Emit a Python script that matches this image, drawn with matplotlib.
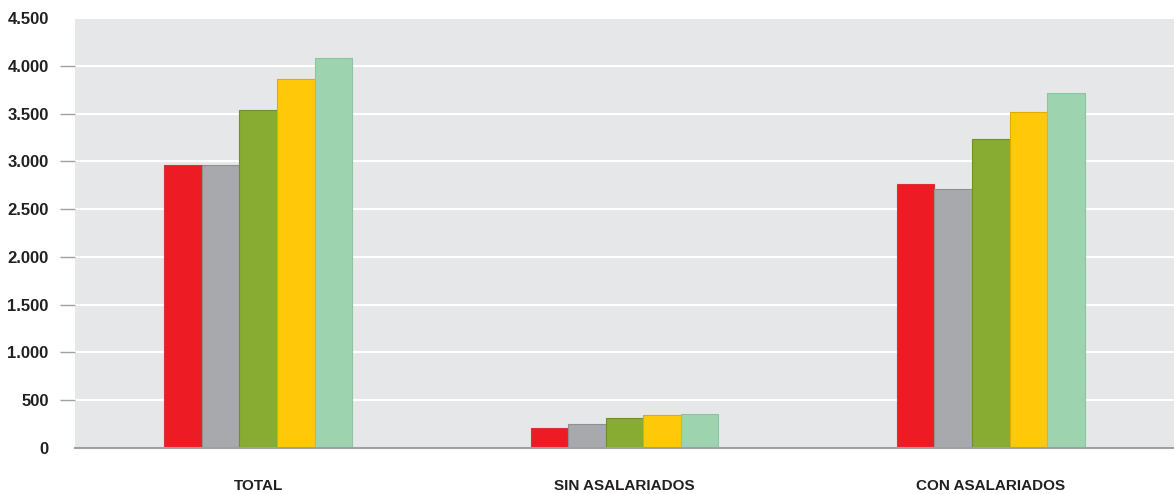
import matplotlib.pyplot as plt
import numpy as np

plt.rcParams['font.family'] = ['Liberation Sans Narrow', 'Liberation Sans', 'DejaVu Sans']

categorias = ["TOTAL", "SIN ASALARIADOS", "CON ASALARIADOS"]
series = ["Serie 1", "Serie 2", "Serie 3", "Serie 4", "Serie 5"]
valores = [
    [2961, 206, 2759],
    [2961, 254, 2707],
    [3541, 311, 3230],
    [3858, 345, 3513],
    [4077, 359, 3718],
]
colores = ['#ed1c24', '#a7a9ac', '#87ac31', '#ffc90a', '#9dd3ae']
bordes = ['#d2343a', '#8e9093', '#6f8f29', '#e0ac00', '#8cc49f']
yticks = [0, 500, 1000, 1500, 2000, 2500, 3000, 3500, 4000, 4500]
ytick_labels = ["0", "500", "1.000", "1.500", "2.000", "2.500", "3.000", "3.500", "4.000", "4.500"]

fig = plt.figure(figsize=(11.74, 4.94), dpi=100)
ax = fig.add_axes([0.0639, 0.0931, 0.9361, 0.8705])
ax.set_facecolor('#e6e7e8')

x = np.arange(len(categorias))
ancho = 0.1026
for i in range(len(series)):
    ax.bar(x + (i - 2) * ancho, valores[i], ancho, color=colores[i],
           edgecolor=bordes[i], linewidth=0.8, label=series[i], zorder=3)

ax.set_xlim(-0.5, 2.5)
ax.set_ylim(0, 4500)
ax.set_yticks(yticks)
ax.set_yticklabels(ytick_labels, fontsize=12, fontweight='bold', color='#231f20')
ax.set_xticks(x)
ax.set_xticklabels(categorias, fontsize=11, fontweight='bold', color='#231f20')
ax.grid(axis='y', color='white', linewidth=1.5, zorder=0)
ax.set_axisbelow(True)

for s in ['top', 'right', 'left']:
    ax.spines[s].set_visible(False)
ax.spines['bottom'].set_color('#a0a0a0')
ax.spines['bottom'].set_linewidth(1.5)
ax.spines['bottom'].set_zorder(4)

ax.tick_params(axis='y', length=11, width=1, color='#a0a0a0', pad=8)
ax.tick_params(axis='x', length=0, pad=22)
ticks = ax.yaxis.get_major_ticks()
ticks[0].tick1line.set_visible(False)
ticks[-1].tick1line.set_visible(False)

plt.savefig('out.png', dpi=100)
